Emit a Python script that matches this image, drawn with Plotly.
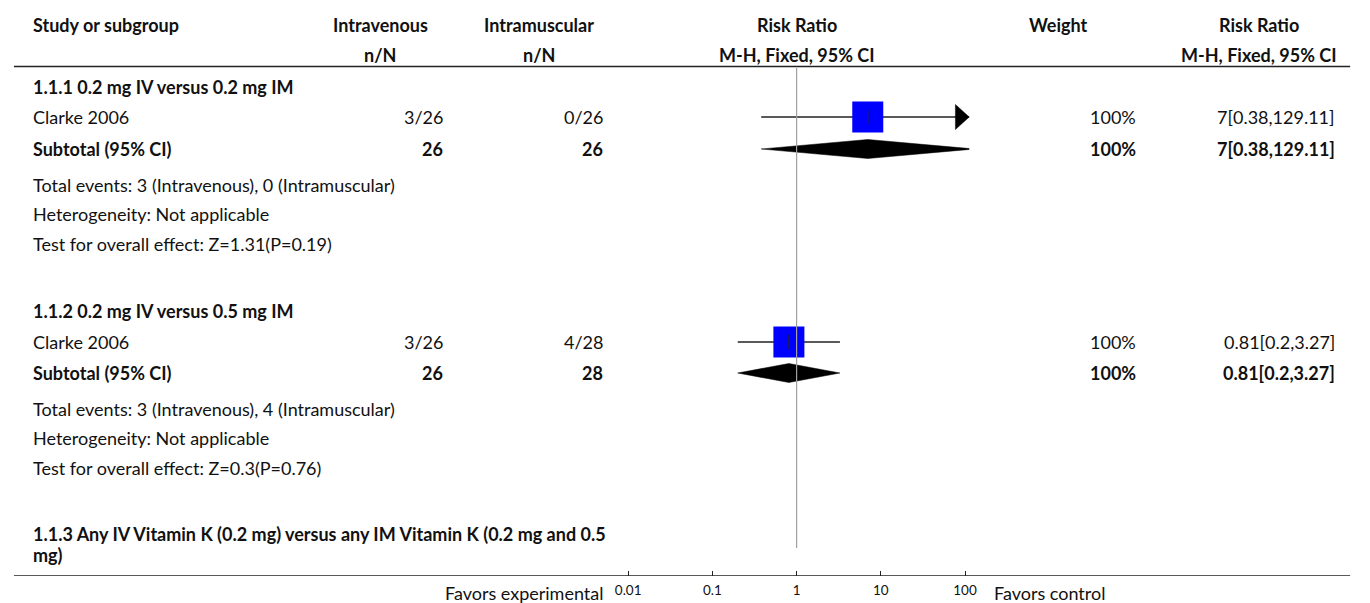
import plotly.graph_objects as go

# ---------------- data ----------------
subgroups = [
    "1.1.1 0.2 mg IV versus 0.2 mg IM",
    "1.1.2 0.2 mg IV versus 0.5 mg IM",
    "1.1.3 Any IV Vitamin K (0.2 mg) versus any IM Vitamin K (0.2 mg and 0.5<br>mg)",
]
studies = ["Clarke 2006", "Clarke 2006"]
iv_events = [3, 3]
iv_total = [26, 26]
im_events = [0, 4]
im_total = [26, 28]
rr = [7, 0.81]
rr_lo = [0.38, 0.2]
rr_hi = [129.11, 3.27]
rr_text = ["7[0.38,129.11]", "0.81[0.2,3.27]"]
weights = ["100%", "100%"]
z_vals = ["1.31", "0.3"]
p_vals = ["0.19", "0.76"]
tick_vals = [0.01, 0.1, 1, 10, 100]
tick_text = ["0.01", "0.1", "1", "10", "100"]

# ---------------- layout constants ----------------
W, H = 1370, 603
FONT = "Lato"
FS = 18
COL = "#111111"
X_LOG_RANGE = [-2.05, 2.05]
AX_LEFT_PX, AX_RIGHT_PX = 622.7, 972.3
AXIS_Y = 576
PX_PER_DEC = (AX_RIGHT_PX - AX_LEFT_PX) / (X_LOG_RANGE[1] - X_LOG_RANGE[0])
LINE_L, LINE_R = 5, 1358

# column anchors (px)
C_STUDY = 22
C_IV_HEAD, C_IV_VAL = 376, 441
C_IM_HEAD, C_IM_VAL = 537, 603
C_WT_HEAD, C_WT_VAL = 1063, 1143
C_RR_HEAD, C_RR_VAL = 1266, 1345

def px(x):
    return x / W

def py(y):
    return 1 - y / H

group_y = [87, 311]
study_y = [117, 342]
sub_y = [149, 373]
info_y = [[185, 214, 244], [409, 438, 468]]
last_group_y = [534, 555]

fig = go.Figure()
ann = []

def text(x, y, s, anchor="left", bold=False, size=FS):
    if bold:
        s = "<b>" + s + "</b>"
    ann.append(dict(x=px(x), y=py(y), xref="paper", yref="paper", text=s,
                    showarrow=False, xanchor=anchor, yanchor="middle",
                    font=dict(family=FONT, size=size, color=COL), align="left"))

# headers
text(C_STUDY, 25, "Study or subgroup", bold=True)
text(C_IV_HEAD, 25, "Intravenous", "center", True)
text(C_IV_HEAD, 55, "n/N", "center", True)
text(C_IM_HEAD, 25, "Intramuscular", "center", True)
text(C_IM_HEAD, 55, "n/N", "center", True)
text(797.5, 25, "Risk Ratio", "center", True)
text(797.5, 55, "M-H, Fixed, 95% CI", "center", True)
text(C_WT_HEAD, 25, "Weight", "center", True)
text(C_RR_HEAD, 25, "Risk Ratio", "center", True)
text(C_RR_HEAD, 55, "M-H, Fixed, 95% CI", "center", True)

for i in range(2):
    text(C_STUDY, group_y[i], subgroups[i], bold=True)
    text(C_STUDY, study_y[i], studies[i])
    text(C_IV_VAL, study_y[i], f"{iv_events[i]}/{iv_total[i]}", "right")
    text(C_IM_VAL, study_y[i], f"{im_events[i]}/{im_total[i]}", "right")
    text(C_WT_VAL, study_y[i], weights[i], "right")
    text(C_RR_VAL, study_y[i], rr_text[i], "right")
    text(C_STUDY, sub_y[i], "Subtotal (95% CI)", bold=True)
    text(C_IV_VAL, sub_y[i], str(iv_total[i]), "right", True)
    text(C_IM_VAL, sub_y[i], str(im_total[i]), "right", True)
    text(C_WT_VAL, sub_y[i], weights[i], "right", True)
    text(C_RR_VAL, sub_y[i], rr_text[i], "right", True)
    text(C_STUDY, info_y[i][0], f"Total events: {iv_events[i]} (Intravenous), {im_events[i]} (Intramuscular)")
    text(C_STUDY, info_y[i][1], "Heterogeneity: Not applicable")
    text(C_STUDY, info_y[i][2], f"Test for overall effect: Z={z_vals[i]}(P={p_vals[i]})")

for part, yy in zip(subgroups[2].split("<br>"), last_group_y):
    text(C_STUDY, yy, part, bold=True)

text(604, 593, "Favors experimental", "right")
text(995, 593, "Favors control", "left")

# ---------------- marks ----------------
xmax = 10 ** X_LOG_RANGE[1]
for i in range(2):
    y = study_y[i]
    # CI line
    fig.add_trace(go.Scatter(x=[rr_lo[i], rr_hi[i]], y=[y, y], mode="lines",
                             line=dict(color="#222222", width=1.5),
                             hoverinfo="skip", showlegend=False))
    # arrow if CI extends beyond the axis
    if rr_hi[i] > xmax:
        back = 10 ** (X_LOG_RANGE[1] - 14 / PX_PER_DEC)
        fig.add_trace(go.Scatter(x=[back, xmax * 0.999, back, back],
                                 y=[y - 12.5, y, y + 12.5, y - 12.5],
                                 mode="lines", fill="toself", fillcolor="black",
                                 line=dict(color="black", width=0.5),
                                 hoverinfo="skip", showlegend=False))
    # weight square
    fig.add_trace(go.Scatter(x=[rr[i]], y=[y], mode="markers",
                             marker=dict(symbol="square", size=31, color="#0000ff",
                                         line=dict(width=0)),
                             hoverinfo="skip", showlegend=False))
    # point estimate tick
    fig.add_trace(go.Scatter(x=[rr[i]], y=[y], mode="markers",
                             marker=dict(symbol="line-ns", size=10,
                                         line=dict(color="#222222", width=1.2)),
                             hoverinfo="skip", showlegend=False))
    # subtotal diamond
    ys = sub_y[i]
    fig.add_trace(go.Scatter(x=[rr_lo[i], rr[i], rr_hi[i], rr[i], rr_lo[i]],
                             y=[ys, ys - 9.5, ys, ys + 9.5, ys],
                             mode="lines", fill="toself", fillcolor="black",
                             line=dict(color="black", width=0.5),
                             hoverinfo="skip", showlegend=False))

shapes = [
    dict(type="line", xref="x", yref="y", x0=1, x1=1, y0=68, y1=548,
         line=dict(color="#a0a0a0", width=1.2)),
    dict(type="line", xref="paper", yref="y", x0=px(LINE_L), x1=px(LINE_R), y0=66.5, y1=66.5,
         line=dict(color="#222222", width=1.5)),
    dict(type="line", xref="paper", yref="y", x0=px(LINE_L), x1=px(LINE_R), y0=AXIS_Y, y1=AXIS_Y,
         line=dict(color="#222222", width=1.5)),
]

fig.update_layout(
    width=W, height=H,
    margin=dict(l=0, r=0, t=0, b=0),
    paper_bgcolor="white", plot_bgcolor="white",
    showlegend=False,
    annotations=ann,
    shapes=shapes,
    xaxis=dict(type="log", range=X_LOG_RANGE, domain=[px(AX_LEFT_PX), px(AX_RIGHT_PX)],
               tickvals=tick_vals, ticktext=tick_text, ticks="inside", ticklen=5,
               tickcolor="#222222", tickwidth=1, showgrid=False, zeroline=False,
               showline=False, tickfont=dict(family=FONT, size=13.5, color=COL),
               ticklabelstandoff=4, fixedrange=True),
    yaxis=dict(range=[AXIS_Y, 0], domain=[1 - AXIS_Y / H, 1], visible=False,
               showgrid=False, zeroline=False, fixedrange=True),
)

fig.write_html("out.html")
